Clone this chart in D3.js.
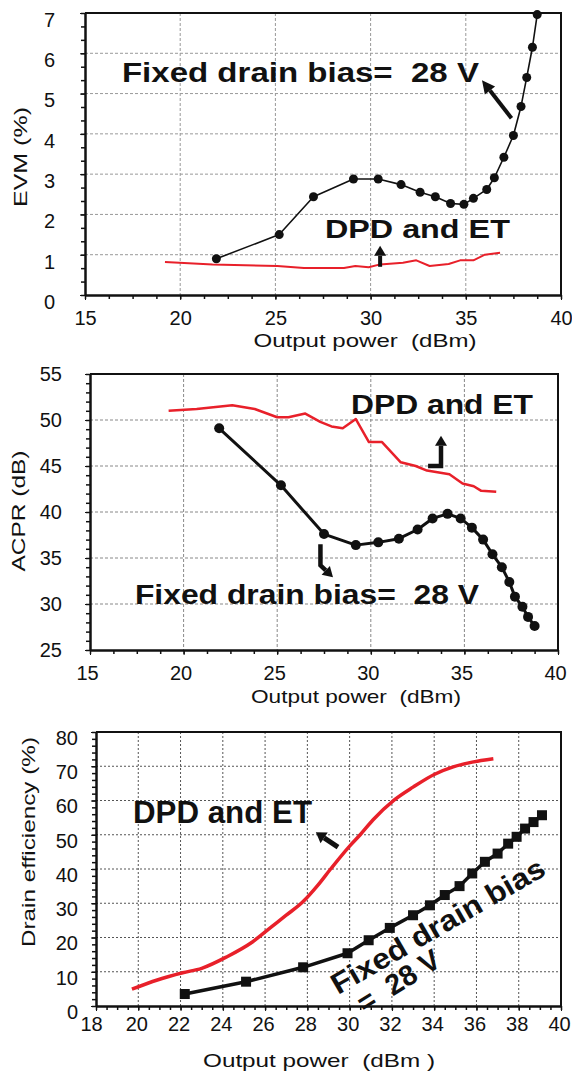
<!doctype html>
<html>
<head>
<meta charset="utf-8">
<style>
    html, body { margin: 0; padding: 0; background: #fff; }
    svg { display: block; }
    text { font-family: "Liberation Sans", Arial, sans-serif; fill: #111; white-space: pre; }
    .axis path, .axis line { stroke: #111; }
    .note { font-weight: bold; }
</style>
</head>
<body>
<svg id="chart" width="572" height="1072"></svg>
<script src="https://cdn.jsdelivr.net/npm/d3@7/dist/d3.min.js"></script>
<script>
    // EVM vs output power
    var evmFixedPower = [21.9, 25.2, 27.0, 29.1, 30.4, 31.6, 32.6, 33.4, 34.2, 34.9, 35.4, 36.1, 36.5, 37.0, 37.5, 37.9, 38.2, 38.5, 38.75];
    var evmFixed      = [0.90, 1.50, 2.44, 2.88, 2.88, 2.74, 2.55, 2.44, 2.27, 2.25, 2.40, 2.62, 2.91, 3.42, 3.96, 4.68, 5.40, 6.15, 6.96];
    var evmEtPower    = [19.2, 21.7, 25.1, 26.5, 28.6, 29.2, 29.9, 30.5, 31.7, 32.4, 33.1, 34.1, 34.7, 35.4, 36.0, 36.8];
    var evmEt         = [0.82, 0.76, 0.72, 0.67, 0.67, 0.72, 0.69, 0.76, 0.80, 0.86, 0.72, 0.77, 0.86, 0.86, 1.00, 1.05];

    // ACPR vs output power
    var acprFixedPower = [21.9, 25.2, 27.5, 29.2, 30.4, 31.5, 32.5, 33.3, 34.1, 34.8, 35.4, 36.0, 36.5, 37.0, 37.4, 37.7, 38.1, 38.4, 38.75];
    var acprFixed      = [49.1, 42.9, 37.6, 36.4, 36.7, 37.1, 38.1, 39.3, 39.8, 39.3, 38.3, 37.0, 35.4, 34.0, 32.4, 30.8, 29.7, 28.6, 27.6];
    var acprEtPower    = [19.2, 20.7, 22.6, 23.8, 25.0, 25.6, 26.5, 27.3, 27.9, 28.5, 29.2, 29.9, 30.6, 31.6, 32.4, 33.0, 34.2, 34.9, 35.5, 35.9, 36.7];
    var acprEt         = [51.0, 51.2, 51.6, 51.2, 50.3, 50.3, 50.7, 49.8, 49.3, 49.1, 50.1, 47.6, 47.6, 45.4, 45.0, 44.5, 44.1, 43.1, 42.8, 42.3, 42.2];

    // drain efficiency vs output power
    var effFixedPower = [22.2, 25.1, 27.8, 29.9, 30.9, 31.9, 33.0, 33.8, 34.5, 35.2, 35.8, 36.4, 37.0, 37.5, 37.9, 38.3, 38.7, 39.1];
    var effFixed      = [3.5, 7.1, 11.3, 15.4, 19.2, 22.8, 26.5, 29.4, 32.4, 35.0, 38.7, 42.1, 44.5, 47.4, 49.4, 51.8, 53.7, 55.7];
    var effEtPower    = [19.7, 20.9, 22.1, 23.0, 24.2, 25.4, 26.3, 27.0, 27.8, 28.5, 29.1, 30.0, 30.5, 31.1, 32.1, 33.0, 34.0, 34.9, 35.8, 36.8];
    var effEt         = [4.9, 7.6, 9.7, 11.0, 14.4, 18.7, 23.1, 26.5, 30.5, 35.3, 40.0, 46.7, 50.0, 54.3, 60.1, 63.9, 67.6, 69.8, 71.2, 72.2];

    var RED = '#e8202a';
    var svg = d3.select('#chart');

    function zip(xs, ys){
        return xs.map(function(v, i){ return [v, ys[i]]; });
    }

    function panel(c){
        var x = d3.scaleLinear().domain(c.xDomain).range([c.left, c.right]);
        var y = d3.scaleLinear().domain(c.yDomain).range([c.bottom, c.top]);
        var g = svg.append('g');

        // grid
        var grid = g.append('g');
        grid.selectAll('.gx').data(d3.range(c.xDomain[0] + c.xStep, c.xDomain[1], c.xStep)).enter()
            .append('line')
            .attr('x1', x).attr('x2', x).attr('y1', c.top).attr('y2', c.bottom);
        grid.selectAll('.gy').data(d3.range(c.yDomain[0] + c.yStep, c.yDomain[1], c.yStep)).enter()
            .append('line')
            .attr('y1', y).attr('y2', y).attr('x1', c.left).attr('x2', c.right);
        grid.selectAll('line')
            .attr('stroke', c.gridColor)
            .attr('stroke-width', 1)
            .attr('stroke-dasharray', c.gridDash);

        // minor ticks
        g.append('g').attr('class', 'axis')
            .attr('transform', 'translate(0,' + c.bottom + ')')
            .call(d3.axisBottom(x).tickValues(d3.range(c.xDomain[0], c.xDomain[1] + 0.001, c.xMinor)).tickSize(4).tickFormat(''))
            .call(function(s){ s.select('.domain').remove(); s.selectAll('line').attr('stroke-width', 1.5); });
        g.append('g').attr('class', 'axis')
            .attr('transform', 'translate(' + c.left + ',0)')
            .call(d3.axisLeft(y).tickValues(d3.range(c.yDomain[0], c.yDomain[1] + 0.001, c.yMinor)).tickSize(4).tickFormat(''))
            .call(function(s){ s.select('.domain').remove(); s.selectAll('line').attr('stroke-width', 1.5); });

        // major axes
        var xa = g.append('g').attr('class', 'axis')
            .attr('transform', 'translate(0,' + c.bottom + ')')
            .call(d3.axisBottom(x).tickValues(d3.range(c.xDomain[0], c.xDomain[1] + 0.001, c.xStep))
                .tickFormat(d3.format('d')).tickSize(5).tickSizeOuter(0).tickPadding(c.xPad));
        xa.select('.domain').attr('stroke-width', 2.5);
        xa.selectAll('text').attr('font-size', 20).attr('fill', '#222')
            .attr('dx', function(d, i){ return i === 0 ? c.firstDx : c.xDx; });

        var ya = g.append('g').attr('class', 'axis')
            .attr('transform', 'translate(' + c.left + ',0)')
            .call(d3.axisLeft(y).tickValues(d3.range(c.yDomain[0], c.yDomain[1] + 0.001, c.yStep))
                .tickFormat(d3.format('d')).tickSize(5).tickSizeOuter(0).tickPadding(c.yPad));
        ya.select('.domain').attr('stroke-width', 2.5);
        ya.selectAll('text').attr('font-size', 20).attr('fill', '#222')
            .attr('dy', function(){ return (0.32 * 20 + c.yDy) + 'px'; });

        // frame
        g.append('path')
            .attr('d', 'M' + c.left + ',' + c.top + 'H' + c.right + 'V' + c.bottom)
            .attr('fill', 'none').attr('stroke', '#111').attr('stroke-width', 2);

        // titles
        g.append('text')
            .attr('x', c.xTitle[0]).attr('y', c.xTitle[1])
            .attr('text-anchor', 'middle').attr('dominant-baseline', 'middle')
            .attr('font-size', 19).attr('fill', '#222')
            .attr('textLength', c.xTitle[2]).attr('lengthAdjust', 'spacingAndGlyphs')
            .text(c.xLabel);
        g.append('text')
            .attr('transform', 'translate(' + c.yTitle[0] + ',' + c.yTitle[1] + ') rotate(-90)')
            .attr('text-anchor', 'middle').attr('dominant-baseline', 'middle')
            .attr('font-size', 19).attr('fill', '#222')
            .attr('textLength', c.yTitle[2]).attr('lengthAdjust', 'spacingAndGlyphs')
            .text(c.yLabel);

        return {g: g, x: x, y: y};
    }

    function series(p, pts, color, width, curve){
        p.g.append('path')
            .datum(pts)
            .attr('fill', 'none')
            .attr('stroke', color)
            .attr('stroke-width', width)
            .attr('stroke-linejoin', 'round')
            .attr('d', d3.line().curve(curve || d3.curveLinear)
                .x(function(d){ return p.x(d[0]); })
                .y(function(d){ return p.y(d[1]); }));
    }

    function dots(p, pts, r){
        p.g.selectAll(null).data(pts).enter()
            .append('circle')
            .attr('cx', function(d){ return p.x(d[0]); })
            .attr('cy', function(d){ return p.y(d[1]); })
            .attr('r', r)
            .attr('fill', '#111');
    }

    function squares(p, pts, s){
        p.g.selectAll(null).data(pts).enter()
            .append('rect')
            .attr('x', function(d){ return p.x(d[0]) - s / 2; })
            .attr('y', function(d){ return p.y(d[1]) - s / 2; })
            .attr('width', s).attr('height', s)
            .attr('fill', '#111');
    }

    function note(p, txt, at, size, len, angle){
        var px = p.x(at[0]), py = p.y(at[1]);
        p.g.append('text')
            .attr('class', 'note')
            .attr('transform', 'translate(' + px + ',' + py + ')' + (angle ? ' rotate(' + angle + ')' : ''))
            .attr('font-size', size)
            .attr('textLength', len).attr('lengthAdjust', 'spacingAndGlyphs')
            .text(txt);
    }

    // thick arrow along data-space points, head at the last one
    function arrow(p, pts, sw, hl, hw){
        var xy = pts.map(function(d){ return [p.x(d[0]), p.y(d[1])]; });
        var n = xy.length, tip = xy[n - 1], prev = xy[n - 2];
        var dx = tip[0] - prev[0], dy = tip[1] - prev[1], L = Math.sqrt(dx * dx + dy * dy);
        var ux = dx / L, uy = dy / L;
        var base = [tip[0] - ux * hl, tip[1] - uy * hl];
        var line = xy.slice(0, n - 1).concat([base]);
        p.g.append('path')
            .attr('d', d3.line()(line))
            .attr('fill', 'none').attr('stroke', '#111').attr('stroke-width', sw)
            .attr('stroke-linejoin', 'miter');
        p.g.append('path')
            .attr('d', d3.line()([tip,
                [base[0] - uy * hw / 2, base[1] + ux * hw / 2],
                [base[0] + uy * hw / 2, base[1] - ux * hw / 2]]) + 'Z')
            .attr('fill', '#111');
    }

    // ---- panel 1: EVM
    var p1 = panel({
        left: 85, right: 561, top: 13, bottom: 295,
        xDomain: [15, 40], xStep: 5, xMinor: 1.25,
        yDomain: [0, 7], yStep: 1, yMinor: 1 / 3,
        gridColor: '#999', gridDash: '3,2',
        xPad: 11, xDx: 0, firstDx: 0, yPad: 25, yDy: 7,
        xLabel: 'Output power  (dBm)', xTitle: [365, 342, 223],
        yLabel: 'EVM (%)', yTitle: [22, 157, 100]
    });
    series(p1, zip(evmEtPower, evmEt), RED, 2);
    series(p1, zip(evmFixedPower, evmFixed), '#111', 1.6);
    dots(p1, zip(evmFixedPower, evmFixed), 4.5);
    note(p1, 'Fixed drain bias=  28 V', [16.94, 5.29], 27, 357);
    note(p1, 'DPD and ET', [27.6, 1.42], 26, 185);
    arrow(p1, [[37.4, 4.39], [35.85, 5.33]], 4, 13, 13);
    arrow(p1, [[30.5, 0.70], [30.5, 1.22]], 4, 10, 12);

    // ---- panel 2: ACPR
    var p2 = panel({
        left: 90, right: 558, top: 374, bottom: 650,
        xDomain: [15, 40], xStep: 5, xMinor: 1.25,
        yDomain: [25, 55], yStep: 5, yMinor: 1,
        gridColor: '#888', gridDash: '3,2',
        xPad: 11, xDx: -3, firstDx: -3, yPad: 23, yDy: 0,
        xLabel: 'Output power  (dBm)', xTitle: [356, 698, 210],
        yLabel: 'ACPR (dB)', yTitle: [20, 511, 121]
    });
    series(p2, zip(acprEtPower, acprEt), RED, 2.5);
    series(p2, zip(acprFixedPower, acprFixed), '#111', 3);
    dots(p2, zip(acprFixedPower, acprFixed), 5);
    note(p2, 'DPD and ET', [28.94, 50.66], 27, 182);
    note(p2, 'Fixed drain bias=  28 V', [17.4, 30.02], 27, 344);
    arrow(p2, [[33.06, 45.0], [33.75, 45.0], [33.75, 48.3]], 4.5, 10, 12);
    arrow(p2, [[27.31, 36.5], [27.31, 34.2], [27.98, 32.9]], 4.5, 10, 12);

    // ---- panel 3: drain efficiency
    var p3 = panel({
        left: 96, right: 561, top: 732, bottom: 1006,
        xDomain: [18, 40], xStep: 2, xMinor: 0.5,
        yDomain: [0, 80], yStep: 10, yMinor: 2,
        gridColor: '#555', gridDash: '2,2',
        xPad: 6, xDx: -2, firstDx: -5, yPad: 13, yDy: 6,
        xLabel: 'Output power  (dBm )', xTitle: [319, 1062, 232],
        yLabel: 'Drain efficiency (%)', yTitle: [30, 842, 210]
    });
    series(p3, zip(effEtPower, effEt), RED, 3.5, d3.curveMonotoneX);
    series(p3, zip(effFixedPower, effFixed), '#111', 3.5);
    squares(p3, zip(effFixedPower, effFixed), 10);
    note(p3, 'DPD and ET', [19.75, 53.4], 32, 179);
    arrow(p3, [[29.45, 46.4], [28.4, 50.7]], 5, 10, 13);
    note(p3, 'Fixed drain bias', [29.45, 3.2], 29, 242, -30);
    note(p3, '=  28 V', [30.72, -2.3], 29, 92, -32);
</script>
</body>
</html>
